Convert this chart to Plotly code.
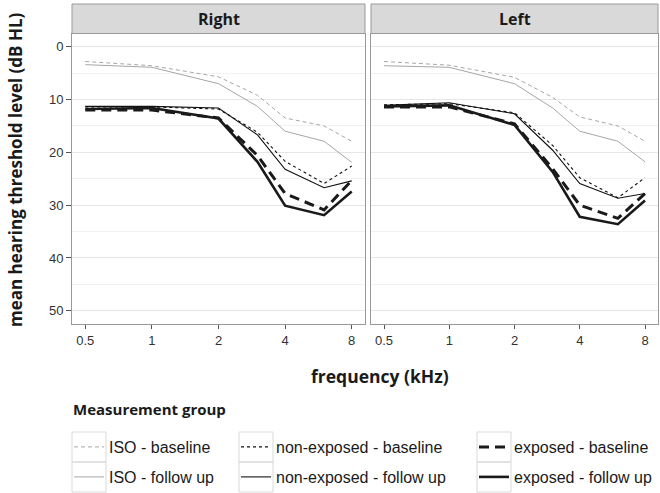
import plotly.graph_objects as go
import math

freqs = [0.5, 1, 2, 3, 4, 6, 8]
tick_vals = [0.5, 1, 2, 4, 8]
tick_text = ["0.5", "1", "2", "4", "8"]
y_ticks = [0, 10, 20, 30, 40, 50]

groups = ["ISO - baseline", "ISO - follow up",
          "non-exposed - baseline", "non-exposed - follow up",
          "exposed - baseline", "exposed - follow up"]

right_iso_base = [2.8, 3.6, 5.7, 9.2, 13.5, 15.0, 17.9]
right_iso_fu = [3.4, 3.9, 7.0, 11.3, 16.0, 17.9, 21.9]
right_nonexp_base = [11.4, 11.4, 11.8, 16.2, 21.7, 25.9, 22.6]
right_nonexp_fu = [11.3, 11.3, 11.6, 16.7, 23.2, 26.7, 25.4]
right_exp_base = [12.0, 12.0, 13.5, 20.6, 27.8, 30.9, 25.3]
right_exp_fu = [11.8, 11.6, 13.6, 21.8, 30.1, 31.9, 27.4]

left_iso_base = [2.8, 3.5, 5.8, 9.6, 13.3, 15.0, 17.9]
left_iso_fu = [3.6, 3.9, 7.0, 11.6, 16.0, 17.9, 21.8]
left_nonexp_base = [11.0, 10.8, 12.5, 18.7, 24.8, 28.6, 24.8]
left_nonexp_fu = [11.1, 10.6, 12.7, 19.6, 25.9, 28.7, 27.8]
left_exp_base = [11.4, 11.4, 14.6, 23.1, 30.0, 32.5, 27.8]
left_exp_fu = [11.3, 11.1, 14.8, 23.7, 32.2, 33.6, 29.1]

right_series = [right_iso_base, right_iso_fu, right_nonexp_base,
                right_nonexp_fu, right_exp_base, right_exp_fu]
left_series = [left_iso_base, left_iso_fu, left_nonexp_base,
               left_nonexp_fu, left_exp_base, left_exp_fu]

styles = [
    dict(color="#a6a6a6", width=1, dash="4px,3px"),
    dict(color="#a6a6a6", width=1, dash="solid"),
    dict(color="#111111", width=1.1, dash="3px,3px"),
    dict(color="#111111", width=1.1, dash="solid"),
    dict(color="#1a1a1a", width=3, dash="10px,6px"),
    dict(color="#1a1a1a", width=2.6, dash="solid"),
]

# layout geometry (pixels)
W, H = 660, 493
L, R, T, B = 72, 658, 4, 324
PW, PH = R - L, B - T

def px(x):
    return (x - L) / PW

def py(y):
    return (B - y) / PH

fig = go.Figure()

legend_names = ["legend", "legend2", "legend3", "legend4", "legend5", "legend6"]
for i, name in enumerate(groups):
    fig.add_trace(go.Scatter(x=freqs, y=right_series[i], mode="lines", name=name,
                             line=styles[i], xaxis="x", yaxis="y",
                             legend=legend_names[i], showlegend=True,
                             hoverinfo="x+y+name"))
    fig.add_trace(go.Scatter(x=freqs, y=left_series[i], mode="lines", name=name,
                             line=styles[i], xaxis="x2", yaxis="y2",
                             showlegend=False, hoverinfo="x+y+name"))

xr = [math.log10(0.5) - 0.06, math.log10(8) + 0.06]
ydom_top = (B - 33.5) / PH
yr = [52.5, -2.5]

tickfont = dict(family="Liberation Sans, Arial, sans-serif", size=13, color="#333333")
common_x = dict(type="log", range=xr, tickvals=tick_vals, ticktext=tick_text,
                showgrid=False, zeroline=False, showline=True, mirror=True,
                linecolor="#999999", linewidth=1, ticks="outside", ticklen=4,
                tickcolor="#555555", tickfont=tickfont)
common_y = dict(range=yr, tickvals=y_ticks, showgrid=True, gridcolor="#e6e6e6",
                gridwidth=1, zeroline=False, showline=True, mirror=True,
                linecolor="#999999", linewidth=1,
                minor=dict(dtick=5, tick0=0, showgrid=True, gridcolor="#f2f2f2", gridwidth=1),
                domain=[0, ydom_top])

x1_dom = [0, px(365)]
x2_dom = [px(371), 1]

fig.update_layout(
    width=W, height=H,
    margin=dict(l=L, r=W - R, t=T, b=H - B, autoexpand=False),
    paper_bgcolor="white", plot_bgcolor="white",
    showlegend=True,
    xaxis=dict(common_x, domain=x1_dom, anchor="y"),
    xaxis2=dict(common_x, domain=x2_dom, anchor="y2"),
    yaxis=dict(common_y, anchor="x", ticks="outside", ticklen=5, tickcolor="#555555",
               tickfont=tickfont),
    yaxis2=dict(common_y, anchor="x2", matches="y", showticklabels=False, ticks=""),
)

# legends: 3 columns x 2 rows
col_box_x = [72, 239, 477]
box_w = 34
row_top = [432, 462]
row_h = 30
legfont = dict(family="Liberation Sans, Arial, sans-serif", size=16, color="#1a1a1a")
for i, name in enumerate(legend_names):
    c, r = i // 2, i % 2
    fig.update_layout({name: dict(
        x=px(col_box_x[c] - 3), y=py(row_top[r] + row_h / 2), xanchor="left", yanchor="middle",
        bgcolor="rgba(0,0,0,0)", borderwidth=0, font=legfont,
        orientation="v", itemclick=False, itemdoubleclick=False)})

shapes = []
# key boxes
for c in range(3):
    for r in range(2):
        x0 = col_box_x[c]
        shapes.append(dict(type="rect", xref="paper", yref="paper",
                           x0=px(x0), x1=px(x0 + box_w),
                           y0=py(row_top[r]), y1=py(row_top[r] + row_h),
                           line=dict(color="#d9d9d9", width=1), fillcolor="rgba(0,0,0,0)",
                           layer="below"))
# strips
strip_h = (33.5 - 4) / (B - 33.5)
for xa, ya in [("x", "y"), ("x2", "y2")]:
    shapes.append(dict(type="rect", xref=f"{xa} domain", yref=f"{ya} domain",
                       x0=0, x1=1, y0=1, y1=1 + strip_h,
                       fillcolor="#d9d9d9", line=dict(color="#999999", width=1)))
fig.update_layout(shapes=shapes)

bold_family = "Open Sans, sans-serif"
annotations = [
    dict(text="<b>Right</b>", xref="x domain", yref="y domain", x=0.5, y=1 + strip_h / 2,
         showarrow=False, font=dict(family=bold_family, size=16, color="#1a1a1a"),
         xanchor="center", yanchor="middle"),
    dict(text="<b>Left</b>", xref="x2 domain", yref="y2 domain", x=0.5, y=1 + strip_h / 2,
         showarrow=False, font=dict(family=bold_family, size=16, color="#1a1a1a"),
         xanchor="center", yanchor="middle"),
    dict(text="<b>frequency (kHz)</b>", xref="paper", yref="paper", x=px(380), y=py(376),
         showarrow=False, font=dict(family=bold_family, size=17.5, color="#1a1a1a"),
         xanchor="center", yanchor="middle"),
    dict(text="<b>mean hearing threshold level (dB HL)</b>", xref="paper", yref="paper",
         x=px(15), y=py(170), textangle=-90, showarrow=False,
         font=dict(family=bold_family, size=17, color="#1a1a1a"),
         xanchor="center", yanchor="middle"),
    dict(text="<b>Measurement group</b>", xref="paper", yref="paper", x=px(71), y=py(409),
         showarrow=False, font=dict(family=bold_family, size=15, color="#1a1a1a"),
         xanchor="left", yanchor="middle"),
]
fig.update_layout(annotations=annotations)

fig.write_html("out.html", config={"displayModeBar": False},
               post_script="document.body.style.margin='0px';")
